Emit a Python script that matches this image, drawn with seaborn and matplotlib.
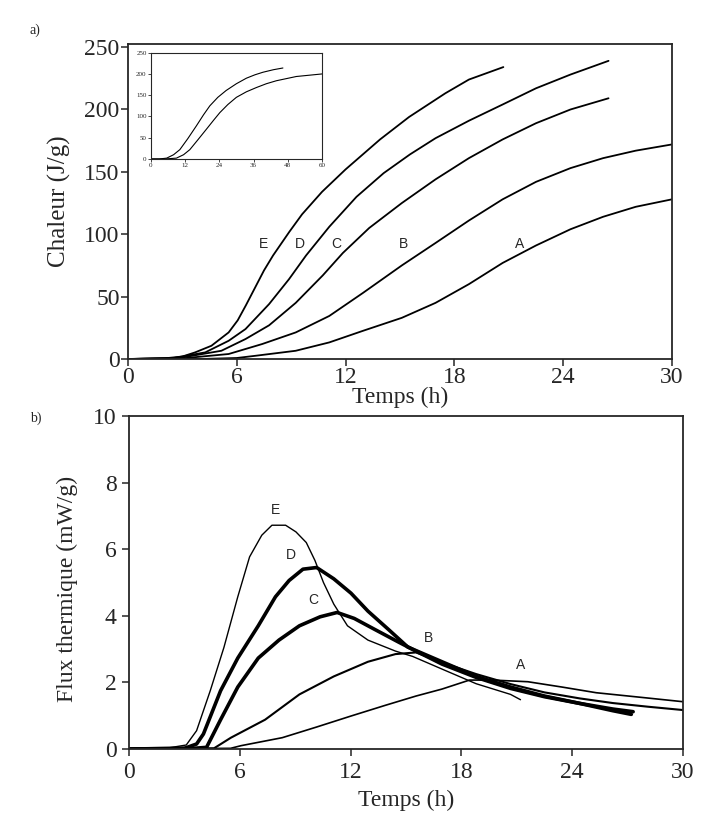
import numpy as np
import pandas as pd
import matplotlib
matplotlib.use("Agg")
import matplotlib.pyplot as plt
import seaborn as sns

# ---- a) cumulative heat (J/g) vs time (h) ----
tA_cum = [0, 4, 6, 7.04, 9.25, 11.1, 12.96, 15.1, 16.96, 18.8, 20.66, 22.5, 24.4, 26.2, 28, 30]
qA_cum = [0, 0, 0.8, 2.6, 6.6, 13.3, 22.6, 33, 45, 60, 77, 91, 104, 114, 122, 128]
tB_cum = [0, 3, 5.55, 7.4, 9.25, 11.1, 12.96, 15.1, 16.96, 18.8, 20.66, 22.5, 24.4, 26.2, 28, 30]
qB_cum = [0, 0.5, 4, 12, 21.3, 34.5, 53, 75, 93, 111, 128, 142, 153, 161, 167, 172]
tC_cum = [0, 2.9, 5.15, 6.48, 7.78, 9.25, 10.74, 11.85, 13.3, 15.1, 16.96, 18.8, 20.66, 22.5, 24.4, 26.5]
qC_cum = [0, 1, 6.6, 16, 27, 45, 67, 85, 105, 125, 144, 161, 176, 189, 200, 209]
tD_cum = [0, 2.4, 4.26, 5.55, 6.48, 7.78, 8.88, 9.82, 11.1, 12.6, 14.1, 15.55, 16.96, 18.8, 20.66, 22.5, 24.4, 26.5]
qD_cum = [0, 0.5, 5.3, 14.6, 24, 44, 64, 83, 106, 130, 149, 164, 177, 191, 204, 217, 228, 239]
tE_cum = [0, 2, 3, 3.7, 4.6, 5.55, 6.05, 6.5, 7.0, 7.5, 8.0, 8.9, 9.6, 10.7, 12.0, 13.9, 15.5, 17.5, 18.8, 20.7]
qE_cum = [0, 0.5, 2, 5.3, 10.6, 21.3, 31, 43, 57, 71, 83, 102, 116, 134, 152, 176, 194, 213, 224, 234]

# inset (0-60 h)
t_in1 = [0, 3, 5.6, 8, 10.2, 13, 16, 18.5, 20.7, 23.5, 26.4, 30, 33.5, 36.5, 39.3, 43, 46.3]
q_in1 = [0, 0, 2, 10, 22, 48, 78, 104, 125, 145, 161, 177, 190, 198, 204, 210, 214]
t_in2 = [0, 5, 9, 11.5, 13.7, 16.5, 19.5, 22, 24.2, 27, 30, 33.5, 37, 40.5, 44, 47.5, 51, 55.5, 60]
q_in2 = [0, 0, 2, 10, 22, 45, 70, 91, 109, 128, 145, 158, 168, 177, 184, 189, 194, 197, 200]

# ---- b) heat flux (mW/g) vs time (h) ----
tA_flux = [0, 5.5, 6.07, 8.3, 10.16, 12.02, 13.87, 15.54, 16.95, 18.44, 19.7, 21.6, 23.45, 25.3, 28.1, 30]
fA_flux = [0, 0.02, 0.1, 0.34, 0.66, 0.99, 1.31, 1.59, 1.8, 2.07, 2.07, 2.02, 1.86, 1.69, 1.53, 1.42]
tB_flux = [0, 4.6, 5.52, 7.37, 9.23, 11.09, 12.94, 14.43, 15.54, 16.95, 18.8, 20.66, 22.5, 24.4, 26.2, 28.1, 30]
fB_flux = [0, 0.02, 0.34, 0.88, 1.64, 2.18, 2.62, 2.85, 2.9, 2.6, 2.25, 1.95, 1.7, 1.52, 1.38, 1.27, 1.17]
tC_flux = [0, 3.5, 4.2, 4.96, 5.89, 7.0, 8.12, 9.23, 10.35, 11.27, 12.2, 13.31, 14.6, 15.54, 16.95, 18.8, 20.66, 22.5, 24.4, 26.2, 27.3]
fC_flux = [0, 0.02, 0.05, 0.88, 1.86, 2.73, 3.27, 3.7, 3.97, 4.1, 3.92, 3.59, 3.21, 2.94, 2.55, 2.15, 1.82, 1.57, 1.37, 1.2, 1.12]
tD_flux = [0, 3, 3.66, 4.03, 4.96, 5.89, 7.0, 7.93, 8.67, 9.42, 10.16, 11.09, 12.02, 12.94, 14.05, 15.1, 16.95, 18.8, 20.66, 22.5, 24.4, 26.2, 27.2]
fD_flux = [0, 0.02, 0.15, 0.45, 1.75, 2.73, 3.7, 4.57, 5.06, 5.4, 5.45, 5.11, 4.68, 4.14, 3.59, 3.06, 2.62, 2.18, 1.86, 1.59, 1.37, 1.15, 1.04]
tE_flux = [0, 2, 3.1, 3.66, 4.4, 5.14, 5.89, 6.53, 7.19, 7.74, 8.48, 9.04, 9.6, 10.07, 10.53, 11.09, 11.83, 12.94, 14.43, 15.36, 16.95, 18.8, 20.66, 21.2]
fE_flux = [0, 0.02, 0.12, 0.55, 1.75, 3.05, 4.57, 5.77, 6.42, 6.72, 6.72, 6.52, 6.2, 5.66, 5.0, 4.35, 3.7, 3.27, 2.94, 2.78, 2.4, 1.96, 1.64, 1.48]

labels = ["A", "B", "C", "D", "E"]
lab_top_t = [21.6, 15.2, 11.5, 9.5, 7.45]
lab_top_q = [92, 92, 92, 92, 92]
lab_bot_t = [21.2, 16.2, 9.97, 8.76, 7.93]
lab_bot_f = [2.53, 3.32, 4.46, 5.82, 7.18]

sns.set_theme(style="ticks")
plt.rcParams["font.family"] = ["Liberation Serif", "DejaVu Serif"]
plt.rcParams["axes.linewidth"] = 1.3
plt.rcParams["xtick.major.width"] = 1.1
plt.rcParams["ytick.major.width"] = 1.1

fig = plt.figure(figsize=(7.09, 8.22), dpi=100)

# ---- panel a ----
ax1 = fig.add_axes([128 / 709, 1 - 359 / 822, 544 / 709, 315 / 822])
cum = [(tA_cum, qA_cum), (tB_cum, qB_cum), (tC_cum, qC_cum), (tD_cum, qD_cum), (tE_cum, qE_cum)]
for (t, q) in cum:
    sns.lineplot(x=t, y=q, ax=ax1, color="black", lw=1.3, estimator=None, sort=False)
for lab, tx, ty in zip(labels, lab_top_t, lab_top_q):
    ax1.text(tx, ty, lab, family="Liberation Sans", fontsize=10, ha="center", va="center")
ax1.set_xlim(0, 30)
ax1.set_ylim(0, 252.5)
ax1.set_xticks([0, 6, 12, 18, 24, 30])
ax1.set_yticks([0, 50, 100, 150, 200, 250])
ax1.tick_params(labelsize=17, length=5, pad=1)
ax1.set_xlabel("Temps (h)", fontsize=17, labelpad=-1)
ax1.set_ylabel("Chaleur (J/g)", fontsize=18)
ax1.yaxis.set_label_coords(-0.105, 0.5)

# inset
axi = fig.add_axes([0.2126, 0.8066, 0.2416, 0.1293])
for (t, q) in [(t_in1, q_in1), (t_in2, q_in2)]:
    sns.lineplot(x=t, y=q, ax=axi, color="black", lw=0.8, estimator=None, sort=False)
axi.set_xlim(0, 60)
axi.set_ylim(0, 250)
axi.set_xticks([0, 12, 24, 36, 48, 60])
axi.set_yticks([0, 50, 100, 150, 200, 250])
axi.tick_params(labelsize=5, length=2, width=0.6, pad=1)
for s in axi.spines.values():
    s.set_linewidth(0.8)

# ---- panel b ----
ax2 = fig.add_axes([129 / 709, 1 - 749 / 822, 554 / 709, 333 / 822])
flux = [(tA_flux, fA_flux, 1.2), (tB_flux, fB_flux, 1.5), (tC_flux, fC_flux, 2.6),
        (tD_flux, fD_flux, 2.6), (tE_flux, fE_flux, 1.0)]
for (t, f, w) in flux:
    sns.lineplot(x=t, y=f, ax=ax2, color="black", lw=w, estimator=None, sort=False)
for lab, tx, ty in zip(labels, lab_bot_t, lab_bot_f):
    ax2.text(tx, ty, lab, family="Liberation Sans", fontsize=10, ha="center", va="center")
ax2.set_xlim(0, 30)
ax2.set_ylim(0, 10)
ax2.set_xticks([0, 6, 12, 18, 24, 30])
ax2.set_yticks([0, 2, 4, 6, 8, 10])
ax2.tick_params(labelsize=17, length=5, pad=4)
ax2.set_xlabel("Temps (h)", fontsize=17, labelpad=5)
ax2.set_ylabel("Flux thermique (mW/g)", fontsize=17)
ax2.yaxis.set_label_coords(-0.092, 0.48)

fig.text(30 / 709, 1 - 30 / 822, "a)", fontsize=10, ha="left", va="center")
fig.text(30 / 709, 1 - 418 / 822, "b)", fontsize=10, ha="left", va="center")

fig.savefig("out.png", dpi=100)
